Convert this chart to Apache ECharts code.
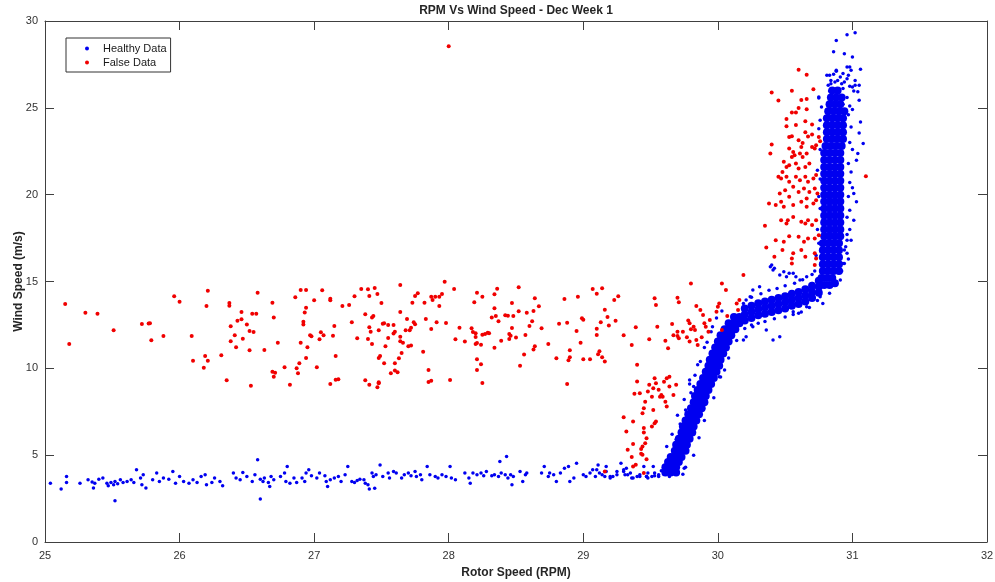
<!DOCTYPE html>
<html><head><meta charset="utf-8">
<script src="https://cdn.jsdelivr.net/npm/echarts@6/dist/echarts.min.js"></script>
<style>html,body{margin:0;padding:0;background:#fff}#c{width:995px;height:582px}</style>
</head><body><div id="c"></div>
<script>
var titleText = 'RPM Vs Wind Speed - Dec Week 1';
var xName = 'Rotor Speed (RPM)';
var yName = 'Wind Speed (m/s)';
var seriesNames = ['Healthy Data', 'False Data'];
var xTicks = [25, 32, 1];
var yTicks = [0, 30, 5];

// Healthy data: sparse points
var healthySparse = [
[25.04,3.39],[25.12,3.05],[25.16,3.77],[25.16,3.43],[25.26,3.39],[25.32,3.58],[25.35,3.45],[25.36,3.11],[25.37,3.39],[25.40,3.62],[25.43,3.68],[25.46,3.39],[25.47,3.24],[25.49,3.43],[25.51,3.29],[25.52,3.48],[25.54,3.35],[25.56,3.58],[25.58,3.43],[25.52,2.37],[25.61,3.48],[25.64,3.58],[25.66,3.43],[25.68,4.16],[25.71,3.68],[25.72,3.29],[25.73,3.87],[25.75,3.11],
[25.80,3.58],[25.83,3.97],[25.85,3.48],[25.88,3.68],[25.92,3.62],[25.95,4.06],[25.97,3.39],[26.00,3.77],[26.03,3.48],[26.07,3.39],[26.10,3.58],[26.13,3.43],[26.16,3.77],[26.19,3.87],[26.20,3.29],[26.24,3.43],[26.26,3.68],[26.30,3.48],[26.32,3.24],
[26.40,3.97],[26.42,3.68],[26.45,3.58],[26.47,4.00],[26.50,3.77],[26.54,3.48],[26.56,3.87],[26.58,4.73],[26.60,3.62],[26.62,3.48],[26.63,3.68],[26.66,3.43],[26.67,3.20],[26.68,3.77],[26.70,3.58],[26.60,2.47],
[26.75,3.77],[26.78,3.97],[26.80,4.35],[26.79,3.48],[26.82,3.39],[26.85,3.68],[26.87,3.43],[26.91,3.68],[26.93,3.48],[26.94,3.97],[26.96,4.16],[26.98,3.81],[27.02,3.68],[27.04,3.97],[27.08,3.81],[27.09,3.48],[27.10,3.20],[27.12,3.58],[27.15,3.68],[27.18,3.77],[27.20,3.48],[27.23,3.87],[27.25,4.35],[27.28,3.48],[27.30,3.43],
[27.32,3.54],[27.34,3.62],[27.37,3.58],[27.38,3.39],[27.40,3.29],[27.41,3.05],[27.43,3.97],[27.44,3.77],[27.45,3.10],[27.46,3.87],[27.49,4.44],[27.51,3.77],[27.55,3.97],[27.56,3.68],[27.59,4.06],[27.61,3.97],[27.65,3.68],[27.67,3.87],[27.70,3.97],[27.72,3.81],[27.75,4.06],[27.76,3.77],[27.79,3.87],[27.80,3.58],[27.84,4.35],[27.86,3.87],[27.90,3.77],[27.92,3.68],[27.95,3.87],[27.98,3.77],
[28.01,4.35],[28.02,3.68],[28.05,3.58],[28.12,3.97],[28.15,3.68],[28.16,3.39],[28.18,3.97],[28.21,3.87],[28.24,3.97],[28.26,3.81],[28.28,4.06],[28.32,3.81],[28.34,3.87],[28.37,3.77],[28.38,4.64],[28.39,3.97],[28.42,3.87],[28.43,4.92],[28.44,3.68],[28.46,3.87],[28.47,3.29],[28.48,3.77],[28.53,4.06],[28.55,3.49],[28.57,3.87],[28.58,3.97],
[28.69,3.97],[28.71,4.35],[28.74,3.77],[28.75,3.97],[28.78,3.87],[28.80,3.49],[28.83,3.97],[28.86,4.25],[28.89,4.35],[28.90,3.49],[28.93,3.68],[28.95,4.54],[29.00,3.87],[29.02,3.77],[29.05,3.97],[29.09,3.77],[29.10,4.16],[29.11,4.44],[29.14,3.87],[29.16,3.77],[29.17,4.06],[29.20,3.68],[29.22,3.77],[29.25,3.87],[29.28,4.54],[29.30,4.06],[29.31,3.87],[29.32,4.25],[29.35,3.97],[29.36,3.68],[29.40,3.77],[29.42,3.87],[29.45,4.35],[29.47,3.77],[29.48,3.97],[29.51,3.77],[29.53,3.97],[29.56,3.87],
[29.07,4.16],[29.12,3.97],[29.17,4.35],[29.20,3.77],[29.25,4.06],[29.30,4.16],[29.33,3.87],[29.37,3.68],[29.42,3.77],[29.48,3.68],[29.53,3.81],
[29.52,4.35],[29.47,3.77],[29.56,3.77],[29.64,3.77],[29.69,3.97],[29.75,4.25],[29.58,4.1],[29.60,3.9],
[29.62,5.5],[29.66,6.2],[29.70,7.3],[29.75,8.2],[29.79,9.1],[29.85,10.2],[29.90,11.2],[29.95,12.1],[29.99,12.9],[30.03,13.3],
[29.82,5.0],[29.86,6.0],[29.90,7.0],[29.97,8.3],[30.02,9.5],[30.08,10.6],[30.14,11.6],[30.20,12.3],[29.76,4.3],[29.74,3.9],
[29.79,9.33],[29.82,8.95],[30.05,9.91],[30.01,9.52],
[29.66,5.0],[29.69,5.9],[29.72,6.8],[29.76,7.6],[29.80,8.6],[29.83,9.6],[29.87,10.4],[29.92,11.5],[29.96,12.4],
[29.78,5.6],[29.82,6.6],[29.86,7.6],[29.91,8.9],[29.96,9.9],[30.00,10.9],[30.07,11.9],[30.12,12.1],
[30.25,14.1],[30.32,14.3],[30.38,14.5],[30.44,14.6],[30.50,14.75],[30.57,14.9],[30.63,15.1],[30.70,15.4],
[30.25,12.5],[30.30,12.6],[30.35,12.7],[30.42,12.85],[30.50,12.95],[30.56,13.1],[30.62,13.25],[30.68,13.5],[30.74,13.9],
[30.39,15.85],[30.41,15.66],[30.46,15.37],[30.51,15.27],[30.56,15.47],[30.61,15.08],[30.66,15.27],[30.70,14.89],
[30.31,14.70],[30.26,14.51],[30.24,14.12],[30.21,13.93],[30.19,13.74],
[30.73,14.70],[30.76,14.12],[30.78,13.74],[30.83,14.32],[30.88,14.89],
[30.56,13.26],[30.60,13.17],[30.66,13.55],
[30.40,15.95],[30.42,15.76],[30.49,15.56],[30.53,15.47],[30.58,15.27],
[30.46,11.82],[30.41,11.63],[30.36,12.21],[30.26,12.40],[30.21,11.82],[30.19,11.63],
[30.91,15.08],[30.93,16.04],[30.94,16.81],[30.96,17.38],
[30.97,24.6],[30.99,23.9],[30.98,23.0],[31.00,22.6],[30.97,21.8],[30.99,21.3],[30.98,20.7],[31.00,20.4],[30.97,19.9],[30.98,19.1],[30.96,18.7],[30.98,18.0],[30.96,17.7],[30.95,17.0],[30.97,16.3],[30.92,15.6],[30.93,25.2],[30.96,25.6],[30.98,25.1],[31.00,24.9],
[30.75,23.8],[30.76,22.6],[30.74,21.4],[30.76,20.9],[30.75,19.9],[30.76,19.2],[30.74,18.0],[30.75,17.2],[30.73,16.5],[30.72,15.6],
[31.05,25.43],[31.06,24.19],[31.05,23.55],[31.08,22.94],[31.04,22.37],[31.03,21.98],[31.01,20.07],[31.03,19.59],[31.01,18.53],[30.99,17.38],[30.96,16.62],[30.94,16.04],
[30.75,25.62],[30.77,25.05],[30.76,24.28],[30.78,21.98],[30.79,20.45],[30.78,18.53],
[30.81,26.87],[30.84,26.58],[30.88,27.16],[30.93,26.97],[30.96,27.35],[31.02,26.58],[31.00,26.20],
[31.02,29.33],[30.96,29.21],[30.88,28.87],[30.86,28.23],[30.94,28.12],[31.00,27.92],[31.06,27.22],[30.88,27.10],[30.98,27.35],[30.99,27.16],
[30.83,26.87],[30.86,26.93],[30.91,26.77],[30.96,26.68],[30.97,26.87],
[30.82,26.30],[30.84,26.39],[30.87,26.49],[30.89,26.58],[30.92,26.39],[30.94,26.49],[30.98,26.24],[31.02,26.30],[31.05,26.30],
[30.75,25.57],[30.83,25.97],[30.88,25.91],[30.93,26.11],[31.01,25.97],[31.04,25.93]
];

// Healthy data: the dense band (points overlap into a solid band)
var healthyDense = [
[29.61,4.0],[29.65,4.0],[29.69,4.0],
[29.61,4.3],[29.65,4.3],[29.69,4.3],
[29.63,4.6],[29.67,4.6],[29.71,4.6],
[29.65,4.9],[29.69,4.9],[29.73,4.9],
[29.68,5.25],[29.72,5.25],[29.76,5.25],
[29.69,5.6],[29.73,5.6],[29.77,5.6],
[29.71,5.95],[29.75,5.95],[29.79,5.95],
[29.73,6.3],[29.77,6.3],[29.81,6.3],
[29.74,6.65],[29.78,6.65],[29.82,6.65],
[29.76,7.0],[29.80,7.0],[29.84,7.0],
[29.78,7.35],[29.82,7.35],[29.86,7.35],
[29.80,7.7],[29.84,7.7],[29.88,7.7],
[29.82,8.05],[29.86,8.05],[29.90,8.05],
[29.83,8.4],[29.87,8.4],[29.91,8.4],
[29.85,8.75],[29.89,8.75],[29.93,8.75],
[29.87,9.1],[29.91,9.1],[29.95,9.1],
[29.89,9.45],[29.93,9.45],[29.97,9.45],
[29.91,9.8],[29.95,9.8],[29.99,9.8],
[29.93,10.15],[29.97,10.15],[30.01,10.15],
[29.94,10.5],[29.98,10.5],[30.02,10.5],
[29.96,10.85],[30.00,10.85],[30.04,10.85],
[29.98,11.2],[30.02,11.2],[30.06,11.2],
[30.00,11.55],[30.04,11.55],[30.08,11.55],
[30.02,11.9],[30.06,11.9],[30.10,11.9],
[30.05,12.25],[30.09,12.25],[30.13,12.25],
[30.08,12.6],[30.12,12.6],[30.16,12.6],
[30.12,12.95],[30.16,12.95],
[30.20,12.75],[30.20,13.1],[30.20,13.45],
[30.25,12.9],[30.25,13.25],[30.25,13.6],
[30.30,13.05],[30.30,13.4],[30.30,13.75],
[30.35,13.15],[30.35,13.5],[30.35,13.85],
[30.40,13.25],[30.40,13.6],[30.40,13.95],
[30.45,13.35],[30.45,13.7],[30.45,14.05],
[30.50,13.45],[30.50,13.8],[30.50,14.15],
[30.55,13.6],[30.55,13.95],[30.55,14.3],
[30.60,13.7],[30.60,14.05],[30.60,14.4],
[30.65,13.85],[30.65,14.2],[30.65,14.55],
[30.70,14.05],[30.70,14.4],[30.70,14.75],
[30.75,14.35],[30.75,14.7],[30.75,15.05],
[30.79,14.8],[30.83,14.8],[30.87,14.9],
[30.77,15.2],[30.81,15.2],[30.85,15.2],
[30.78,15.6],[30.82,15.6],[30.86,15.6],[30.90,15.6],
[30.78,16.0],[30.82,16.0],[30.86,16.0],[30.90,16.0],
[30.78,16.4],[30.82,16.4],[30.86,16.4],[30.90,16.4],
[30.78,16.8],[30.82,16.8],[30.86,16.8],[30.90,16.8],
[30.78,17.2],[30.82,17.2],[30.86,17.2],[30.90,17.2],
[30.79,17.6],[30.83,17.6],[30.87,17.6],[30.91,17.6],
[30.79,18.0],[30.83,18.0],[30.87,18.0],[30.91,18.0],
[30.79,18.4],[30.83,18.4],[30.87,18.4],[30.91,18.4],
[30.79,18.8],[30.83,18.8],[30.87,18.8],[30.91,18.8],
[30.79,19.2],[30.83,19.2],[30.87,19.2],[30.91,19.2],
[30.79,19.6],[30.83,19.6],[30.87,19.6],[30.91,19.6],
[30.79,20.0],[30.83,20.0],[30.87,20.0],[30.91,20.0],
[30.79,20.4],[30.83,20.4],[30.87,20.4],[30.91,20.4],
[30.79,20.8],[30.83,20.8],[30.87,20.8],[30.91,20.8],
[30.79,21.2],[30.83,21.2],[30.87,21.2],[30.91,21.2],
[30.79,21.6],[30.83,21.6],[30.87,21.6],[30.91,21.6],
[30.79,22.0],[30.83,22.0],[30.87,22.0],[30.91,22.0],
[30.79,22.4],[30.83,22.4],[30.87,22.4],[30.91,22.4],
[30.80,22.8],[30.84,22.8],[30.88,22.8],[30.92,22.8],
[30.81,23.2],[30.85,23.2],[30.89,23.2],[30.93,23.2],
[30.81,23.6],[30.85,23.6],[30.89,23.6],[30.93,23.6],
[30.81,24.0],[30.85,24.0],[30.89,24.0],[30.93,24.0],
[30.81,24.4],[30.85,24.4],[30.89,24.4],[30.93,24.4],
[30.82,24.8],[30.86,24.8],[30.90,24.8],[30.94,24.8],
[30.83,25.2],[30.87,25.2],[30.91,25.2],
[30.84,25.6],[30.88,25.6],[30.92,25.6],
[30.85,26.0],[30.89,26.0]
];

var falseData = [
[25.15,13.7],[25.18,11.4],[25.30,13.2],[25.39,13.15],[25.51,12.19],[25.72,12.55],[25.77,12.58],[25.78,12.6],[25.79,11.62],[25.88,11.86],[25.96,14.15],[26.00,13.84],[26.09,11.86],[26.10,10.44],[26.18,10.04],[26.19,10.71],[26.21,10.43],[26.20,13.59],[26.21,14.47],[26.31,10.75],[26.35,9.32],[26.37,13.76],[26.37,13.6],[26.38,12.42],[26.38,11.56],[26.41,11.9],[26.42,11.21],[26.43,12.74],[26.46,13.24],[26.46,12.82],[26.47,11.71],[26.50,12.53],[26.52,12.15],[26.52,11.04],[26.53,8.99],[26.55,12.09],[26.54,13.15],[26.57,13.15],[26.58,14.35],[26.63,11.06],[26.69,13.78],[26.70,12.92],[26.69,9.81],[26.71,9.74],[26.70,9.52],[26.73,11.48],[26.78,10.06],[26.82,9.05],[26.86,14.1],[26.87,10.0],[26.88,9.72],[26.89,10.29],[26.90,14.51],[26.94,14.51],[26.90,11.48],[26.94,13.49],[26.93,13.22],[26.92,12.68],[26.92,12.53],[26.95,11.21],[26.94,10.6],[26.97,11.9],[26.98,11.85],[27.00,13.92],[27.06,14.49],[27.02,10.06],[27.05,12.08],[27.07,11.9],[27.04,11.67],[27.12,13.92],[27.12,14.01],[27.12,9.1],[27.15,12.44],[27.14,11.88],[27.16,10.71],[27.16,9.34],[27.18,9.37],
[27.21,13.59],[27.26,13.65],[27.28,12.66],[27.30,14.15],[27.32,11.73],[27.35,14.57],[27.38,13.11],[27.38,9.32],[27.40,14.55],[27.41,14.16],[27.40,11.69],[27.41,12.36],[27.42,12.11],[27.43,12.92],[27.44,13.01],[27.43,11.4],[27.41,9.05],[27.45,14.62],[27.47,14.28],[27.48,12.19],[27.48,10.6],[27.49,10.71],[27.47,8.91],[27.48,9.14],[27.48,9.2],[27.50,13.76],[27.51,12.57],[27.52,12.59],[27.52,10.29],[27.53,11.27],[27.55,11.75],[27.55,12.5],[27.57,9.72],[27.59,12.5],[27.60,12.11],[27.59,12.0],[27.60,9.87],[27.62,9.78],[27.60,10.29],[27.63,10.58],[27.64,14.8],[27.64,13.24],[27.64,11.56],[27.66,11.48],[27.64,11.82],[27.65,10.89],[27.68,12.19],[27.69,12.84],[27.70,11.27],[27.72,11.31],[27.71,12.19],[27.72,12.34],[27.73,13.78],[27.74,12.65],[27.75,12.54],[27.75,14.16],[27.77,14.32],[27.81,10.96],[27.82,13.78],[27.83,12.84],[27.85,9.91],[27.85,9.22],[27.87,9.29],[27.87,14.12],[27.88,13.93],[27.90,14.12],[27.93,14.12],[27.87,12.27],[27.91,12.65],[27.93,13.59],[27.95,14.28],[27.97,14.99],[27.98,12.61],
[28.01,9.33],[28.04,14.57],[28.05,11.67],[28.08,12.34],[28.12,11.54],[28.17,12.31],[28.18,12.09],[28.20,12.02],[28.19,13.8],[28.21,14.35],[28.20,11.81],[28.21,11.46],[28.20,11.4],[28.21,10.52],[28.21,9.91],[28.24,10.24],[28.24,11.36],[28.25,9.16],[28.25,14.12],[28.25,11.94],[28.27,11.98],[28.29,12.05],[28.30,12.02],[28.32,12.92],[28.34,13.46],[28.34,11.19],[28.34,14.26],[28.36,14.58],[28.35,13.01],[28.37,12.71],[28.39,11.59],[28.42,13.05],[28.44,13.03],[28.48,13.01],[28.45,11.69],[28.45,11.98],[28.46,11.88],[28.47,13.76],[28.47,12.32],[28.50,11.77],[28.52,13.28],[28.52,14.67],[28.53,10.15],[28.56,10.79],[28.57,11.92],[28.58,13.2],[28.60,12.44],[28.62,12.71],[28.63,11.08],[28.64,11.27],[28.63,13.3],[28.64,14.03],[28.67,13.57],[28.69,12.31],[28.74,11.4],[28.80,10.58],[28.82,12.57],[28.86,13.99],[28.88,9.1],[28.88,12.63],[28.89,10.47],[28.90,10.64],[28.90,11.04],[28.95,12.15],[28.96,14.12],[28.98,11.48],[28.99,12.88],[29.00,12.8],[29.00,10.52],[29.05,10.52],[29.07,14.57],[29.10,14.3],[29.14,14.61],[29.10,12.28],[29.10,11.92],[29.11,10.81],[29.12,10.98],[29.14,10.64],[29.16,10.39],[29.13,12.65],[29.16,13.38],[29.18,12.96],[29.19,12.46],[29.23,13.93],[29.26,14.15],[29.24,12.74],[29.30,11.9],
[29.36,11.35],[29.39,12.36],[29.40,10.2],[29.49,11.67],[29.53,14.03],[29.54,13.65],[29.55,12.4],[29.61,11.59],[29.63,11.16],[29.66,12.55],[29.67,11.9],[29.70,11.86],[29.71,11.73],[29.70,12.11],[29.70,14.07],[29.71,13.8],[29.74,12.11],[29.77,11.79],[29.79,11.54],[29.78,12.75],[29.79,12.59],[29.82,12.4],[29.80,12.25],[29.83,12.21],[29.80,14.89],[29.84,13.59],[29.87,13.36],[29.89,13.07],[29.84,11.63],[29.85,11.35],[29.88,11.79],[29.91,12.4],[29.93,12.11],[29.90,12.59],[29.94,12.78],[29.99,13.26],[30.00,13.55],[30.01,13.74],[30.03,14.89],[30.06,14.51],[30.03,12.21],[30.07,13.01],[30.14,13.74],[30.15,13.36],[30.16,13.93],[30.19,15.37],
[29.62,9.43],[29.60,9.23],[29.64,9.52],[29.69,9.05],[29.53,9.43],[29.54,9.14],[29.52,8.85],[29.56,8.76],[29.57,8.37],[29.58,8.47],[29.49,9.05],[29.48,8.66],[29.51,8.37],[29.46,8.08],[29.45,7.7],[29.44,7.42],[29.52,7.6],[29.54,6.94],[29.53,6.84],[29.51,6.65],[29.45,6.56],[29.45,6.3],[29.47,5.98],[29.46,5.69],[29.30,7.19],[29.32,6.36],[29.37,6.94],[29.40,9.24],[29.42,8.57],[29.38,8.53],[29.37,5.64],[29.33,5.31],[29.43,5.35],[29.37,4.35],[29.45,3.97],[29.43,5.08],[29.47,4.77],[29.59,8.37],[29.61,8.08],[29.64,8.95],[29.67,8.47],[29.62,7.8],[29.16,4.06],[29.44,5.5],[29.44,5.02],[29.36,4.89],[29.39,4.45],
[30.60,27.2],[30.66,26.91],[30.40,25.88],[30.55,25.99],[30.71,26.07],[30.45,25.42],[30.62,25.45],[30.66,25.51],[30.55,24.73],[30.58,24.73],[30.60,24.99],[30.66,24.92],[30.51,24.35],[30.70,24.04],[30.51,23.94],[30.58,24.01],[30.65,24.23],[30.53,23.32],[30.55,23.36],[30.65,23.59],[30.67,23.35],[30.70,23.46],[30.60,23.13],[30.63,22.98],[30.62,22.75],[30.75,23.32],[30.76,23.08],[30.40,22.89],[30.39,22.37],[30.53,22.66],[30.56,22.46],[30.57,22.27],[30.55,22.17],[30.61,22.37],[30.63,22.17],[30.66,22.37],[30.70,22.75],[30.72,22.66],[30.73,22.85],[30.49,21.89],[30.51,21.6],[30.48,21.31],[30.53,21.7],[30.58,21.79],[30.60,21.51],[30.65,21.6],[30.68,21.79],
[30.45,21.03],[30.47,20.93],[30.51,21.03],[30.53,20.74],[30.58,21.03],[30.61,20.83],[30.65,21.03],[30.67,20.74],[30.71,20.93],[30.73,21.13],[30.46,20.07],[30.50,20.26],[30.56,20.45],[30.60,20.16],[30.64,20.36],[30.68,20.16],[30.72,20.36],[30.74,20.07],[30.53,19.88],[30.66,19.78],[30.38,19.49],[30.43,19.4],[30.47,19.59],[30.49,19.3],[30.56,19.4],[30.62,19.59],[30.66,19.3],[30.71,19.49],[30.73,19.68],
[30.35,18.21],[30.47,18.53],[30.51,18.34],[30.52,18.53],[30.56,18.72],[30.62,18.44],[30.65,18.34],[30.67,18.53],[30.70,18.25],[30.73,18.53],[30.36,16.96],[30.43,17.38],[30.49,17.29],[30.53,17.61],[30.60,17.57],[30.64,17.29],[30.67,17.48],[30.72,17.48],[30.75,17.67],[30.42,16.42],[30.48,16.81],[30.55,16.33],[30.56,16.62],[30.62,16.81],[30.65,16.42],[30.72,16.62],[30.73,16.33],[30.55,16.04],[30.72,15.95],
[31.10,21.06],[28.00,28.55]
];

var chart = echarts.init(document.getElementById('c'), null, {renderer: 'canvas'});
var font = 'Liberation Sans, Arial, Helvetica, sans-serif';
var axisColor = '#404040';
function xAxisCfg(pos, showLabel) {
  return {
    type: 'value', position: pos, min: xTicks[0], max: xTicks[1], interval: xTicks[2],
    name: showLabel ? xName : '', nameLocation: 'middle', nameGap: 25, nameMoveOverlap: false,
    nameTextStyle: {fontFamily: font, fontWeight: 'bold', fontSize: 12, color: '#262626'},
    axisLine: {show: true, onZero: false, lineStyle: {color: axisColor, width: 1}},
    axisTick: {show: true, inside: true, length: 9, lineStyle: {color: axisColor}},
    axisLabel: {show: showLabel, margin: 8, fontFamily: font, fontSize: 11, color: '#333'},
    splitLine: {show: false}
  };
}
function yAxisCfg(pos, showLabel) {
  return {
    type: 'value', position: pos, min: yTicks[0], max: yTicks[1], interval: yTicks[2],
    name: showLabel ? yName : '', nameLocation: 'middle', nameGap: 20, nameMoveOverlap: false,
    nameTextStyle: {fontFamily: font, fontWeight: 'bold', fontSize: 12, color: '#262626'},
    axisLine: {show: true, onZero: false, lineStyle: {color: axisColor, width: 1}},
    axisTick: {show: true, inside: true, length: 9, lineStyle: {color: axisColor}},
    axisLabel: {show: showLabel, margin: 7, fontFamily: font, fontSize: 11, color: '#333'},
    splitLine: {show: false}
  };
}
chart.setOption({
  animation: false,
  backgroundColor: '#fff',
  title: {
    text: titleText, left: 516, top: 5, padding: 0, textAlign: 'center',
    textStyle: {fontFamily: font, fontWeight: 'bold', fontSize: 12, color: '#262626'}
  },
  legend: {
    data: seriesNames, orient: 'vertical', left: 66, top: 38,
    padding: [4, 4, 3, 19], itemGap: 1, itemWidth: 22, itemHeight: 4,
    icon: 'circle', symbolKeepAspect: true,
    borderColor: '#333', borderWidth: 1, backgroundColor: '#fff',
    textStyle: {fontFamily: font, fontSize: 11, color: '#1a1a1a', lineHeight: 13}
  },
  grid: {left: 45, right: 8, top: 21, bottom: 40, containLabel: false, outerBoundsMode: 'none'},
  xAxis: [xAxisCfg('bottom', true), xAxisCfg('top', false)],
  yAxis: [yAxisCfg('left', true), yAxisCfg('right', false)],
  series: [
    {name: seriesNames[0], type: 'scatter', data: healthySparse, symbolSize: 3.5,
     itemStyle: {color: '#0000f0', opacity: 1}, silent: true},
    {name: seriesNames[0], type: 'scatter', data: healthyDense, symbolSize: 8,
     itemStyle: {color: '#0000f0', opacity: 1}, silent: true},
    {name: seriesNames[1], type: 'scatter', data: falseData, symbolSize: 4,
     itemStyle: {color: '#f00000', opacity: 1}, silent: true}
  ]
});
</script>
</body></html>
